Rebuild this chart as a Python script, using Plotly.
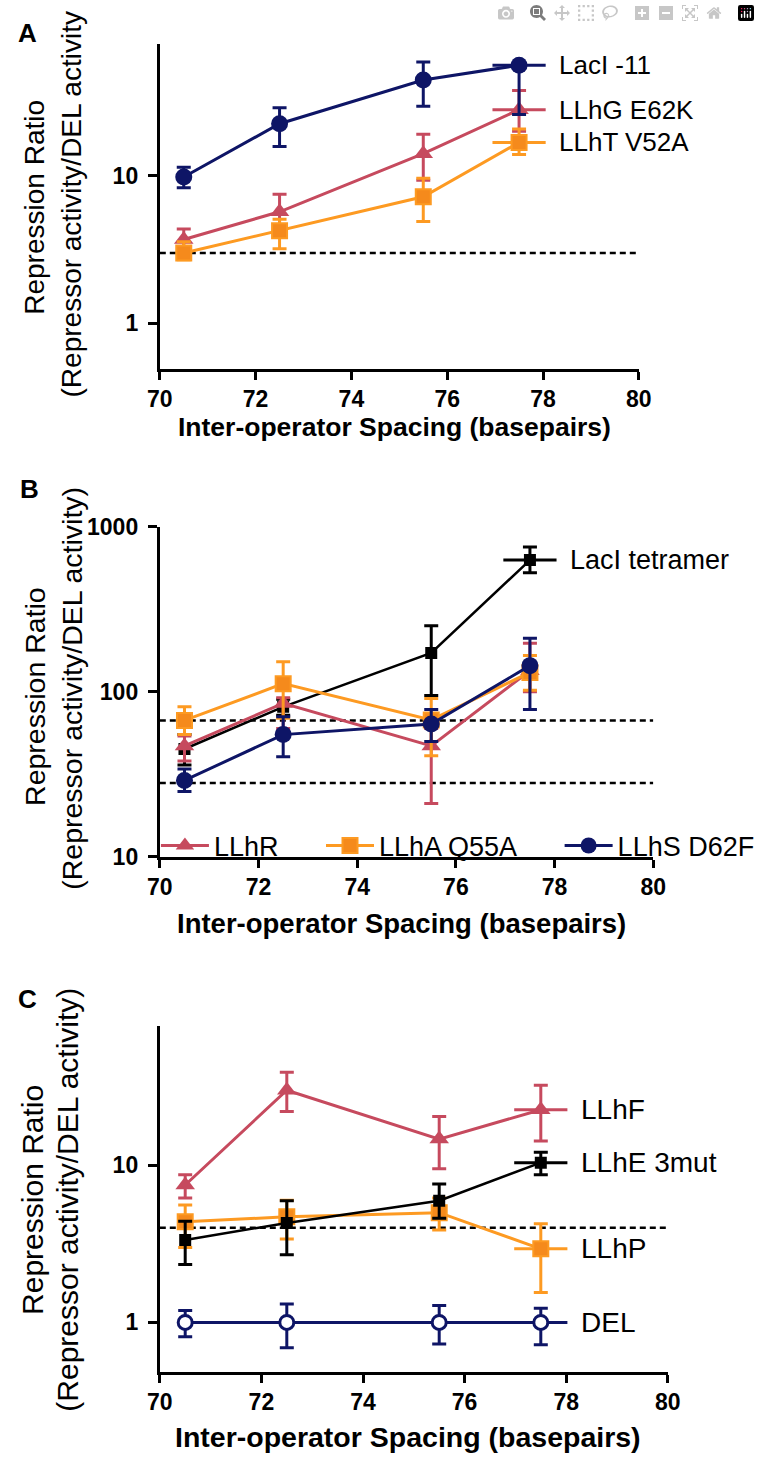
import math
import plotly.graph_objects as go

W, H = 760, 1468
FONT = "Liberation Sans, Arial, sans-serif"

NAVY = "#0E1566"
PINK = "#C64A5E"
ORANGE = "#FD9A22"
BLACK = "#000000"

# ---------------- data ----------------
spacing = [70.5, 72.5, 75.5, 77.5]
x_limits = [70, 80]
x_ticks = [70, 72, 74, 76, 78, 80]

# Panel A
a_laci11 = [9.8, 22.5, 44.5, 56.0]
a_laci11_lo = [8.3, 15.8, 29.5, 26.0]
a_laci11_hi = [11.4, 28.8, 58.9, 56.0]
a_llhg = [3.7, 5.7, 14.1, 28.0]
a_llhg_lo = [3.1, 4.4, 9.3, 20.0]
a_llhg_hi = [4.35, 7.5, 19.1, 37.8]
a_llht = [3.0, 4.24, 7.2, 16.8]
a_llht_lo = [2.7, 3.2, 4.9, 13.9]
a_llht_hi = [3.57, 5.07, 9.6, 20.7]
a_threshold = 3.0
a_yticks = [1, 10]

# Panel B
b_tet = [45.0, 81.0, 172.0, 628.0]
b_tet_lo = [36.0, 72.0, 95.0, 527.0]
b_tet_hi = [55.0, 90.0, 251.0, 754.0]
b_llhr = [47.0, 85.0, 47.0, 134.0]
b_llhr_lo = [38.0, 60.0, 21.0, 100.0]
b_llhr_hi = [54.0, 92.0, 60.0, 197.0]
b_llha = [67.0, 112.0, 67.5, 131.0]
b_llha_lo = [55.0, 69.0, 41.0, 102.0]
b_llha_hi = [81.0, 152.0, 91.0, 166.0]
b_llhs = [29.0, 55.0, 63.7, 144.0]
b_llhs_lo = [24.9, 40.4, 50.0, 78.0]
b_llhs_hi = [34.0, 70.6, 78.0, 211.0]
b_thresholds = [67.0, 28.0]
b_yticks = [10, 100, 1000]

# Panel C
c_llhf = [7.5, 30.1, 14.7, 22.6]
c_llhf_lo = [6.2, 22.0, 9.5, 14.3]
c_llhf_hi = [8.7, 39.2, 20.5, 32.4]
c_llhe = [3.35, 4.3, 5.96, 10.4]
c_llhe_lo = [2.34, 2.7, 4.6, 8.7]
c_llhe_hi = [4.4, 5.96, 7.6, 12.1]
c_llhp = [4.38, 4.7, 5.0, 2.94]
c_llhp_lo = [3.0, 3.4, 3.87, 1.55]
c_llhp_hi = [5.6, 6.0, 6.2, 4.25]
c_del = [1.0, 1.0, 1.0, 1.0]
c_del_lo = [0.81, 0.69, 0.73, 0.72]
c_del_hi = [1.19, 1.31, 1.28, 1.23]
c_threshold = 4.0
c_yticks = [1, 10]


def fx(p):
    return p / W


def fy(p):
    return 1 - p / H


fig = go.Figure()


def add_series(ax, yv, lo, hi, color, symbol, size, name=None, legend=False,
               fill=None, lw=3, mlw=0):
    fig.add_trace(go.Scatter(
        x=spacing, y=yv, mode="lines+markers", name=name, showlegend=legend,
        xaxis="x" + ax, yaxis="y" + ax,
        line=dict(color=color, width=lw),
        marker=dict(symbol=symbol, size=size, color=fill or color,
                    line=dict(color=color, width=mlw)),
        error_y=dict(type="data", symmetric=False,
                     array=[h - v for h, v in zip(hi, yv)],
                     arrayminus=[v - l for v, l in zip(yv, lo)],
                     color=color, thickness=3, width=7),
        hoverinfo="x+y",
    ))


def add_label(ax, yv, color, text, fsize):
    fig.add_trace(go.Scatter(
        x=[spacing[-1]], y=[yv[-1]], mode="markers", showlegend=False,
        xaxis="x" + ax, yaxis="y" + ax,
        marker=dict(symbol="line-ew", size=38, color=color,
                    line=dict(color=color, width=3)),
        hoverinfo="skip",
    ))
    xr = "x" if ax == "" else "x" + ax
    yr = "y" if ax == "" else "y" + ax
    fig.add_annotation(x=spacing[-1], y=math.log10(yv[-1]), xref=xr, yref=yr,
                       text=text, showarrow=False, xanchor="left", yanchor="middle",
                       xshift=38, font=dict(family=FONT, size=fsize, color="black"))


def add_threshold(ax, val):
    fig.add_trace(go.Scatter(
        x=x_limits, y=[val, val], mode="lines", showlegend=False,
        xaxis="x" + ax, yaxis="y" + ax,
        line=dict(color="black", width=2.5, dash="6px,4px"), hoverinfo="skip",
    ))


# ---- Panel A (axis '') ----
add_threshold("", a_threshold)
add_label("", a_llhg, PINK, "LLhG E62K", 26)
add_series("", a_llhg, a_llhg_lo, a_llhg_hi, PINK, "triangle-up", 17)
add_label("", a_llht, ORANGE, "LLhT V52A", 26)
add_series("", a_llht, a_llht_lo, a_llht_hi, ORANGE, "square", 15, fill="#F58A1C", mlw=2)
add_label("", a_laci11, NAVY, "LacI -11", 26)
add_series("", a_laci11, a_laci11_lo, a_laci11_hi, NAVY, "circle", 17)

# ---- Panel B (axis '2') ----
for t in b_thresholds:
    add_threshold("2", t)
add_label("2", b_tet, BLACK, "LacI tetramer", 27)
add_series("2", b_tet, b_tet_lo, b_tet_hi, BLACK, "square", 12, lw=2.5)
nb = "\u00a0"
add_series("2", b_llhr, b_llhr_lo, b_llhr_hi, PINK, "triangle-up", 17,
           name="LLhR" + nb * 5, legend=True)
add_series("2", b_llha, b_llha_lo, b_llha_hi, ORANGE, "square", 15,
           name="LLhA Q55A" + nb * 5, legend=True, fill="#F58A1C", mlw=2)
add_series("2", b_llhs, b_llhs_lo, b_llhs_hi, NAVY, "circle", 17,
           name="LLhS D62F", legend=True)

# ---- Panel C (axis '3') ----
add_threshold("3", c_threshold)
add_label("3", c_del, NAVY, "DEL", 28)
add_series("3", c_del, c_del_lo, c_del_hi, NAVY, "circle", 14, fill="white", mlw=3)
add_label("3", c_llhp, ORANGE, "LLhP", 28)
add_series("3", c_llhp, c_llhp_lo, c_llhp_hi, ORANGE, "square", 15, fill="#F58A1C", mlw=2)
add_label("3", c_llhe, BLACK, "LLhE 3mut", 28)
add_series("3", c_llhe, c_llhe_lo, c_llhe_hi, BLACK, "square", 12, lw=2.5)
add_label("3", c_llhf, PINK, "LLhF", 28)
add_series("3", c_llhf, c_llhf_lo, c_llhf_hi, PINK, "triangle-up", 17)


def xaxis(px0, px1, anchor, fsize):
    return dict(domain=[fx(px0), fx(px1)], range=x_limits, tickvals=x_ticks,
                ticktext=["<b>%d</b>" % v for v in x_ticks],
                ticks="outside", ticklen=8, tickwidth=3, tickcolor="black",
                showline=True, linewidth=3, linecolor="black", showgrid=False,
                zeroline=False, anchor=anchor,
                tickfont=dict(family=FONT, size=fsize, color="black"))


def yaxis(py0, py1, rng, tv, anchor, fsize):
    return dict(domain=[fy(py1), fy(py0)], type="log", range=rng, tickvals=tv,
                ticktext=["<b>%d</b>" % v for v in tv],
                ticks="outside", ticklen=9, tickwidth=3, tickcolor="black",
                showline=True, linewidth=3, linecolor="black", showgrid=False,
                zeroline=False, anchor=anchor, ticklabelstandoff=5,
                tickfont=dict(family=FONT, size=fsize, color="black"))


fig.update_layout(
    width=W, height=H, margin=dict(l=0, r=0, t=0, b=0),
    paper_bgcolor="white", plot_bgcolor="white",
    xaxis=xaxis(152, 648, "y", 23),
    yaxis=yaxis(32, 362, [-0.306, 1.889], a_yticks, "x", 23),
    xaxis2=xaxis(152, 663, "y2", 23),
    yaxis2=yaxis(523, 859, [1, 3], b_yticks, "x2", 23),
    xaxis3=xaxis(152, 678, "y3", 23),
    yaxis3=yaxis(1031, 1383, [-0.3125, 1.889], c_yticks, "x3", 23),
    showlegend=True,
    legend=dict(orientation="h", x=fx(148), y=fy(848), xanchor="left", yanchor="middle",
                font=dict(family=FONT, size=27, color="black"),
                bgcolor="rgba(0,0,0,0)", itemwidth=48, tracegroupgap=0),
)

# panel letters
for letter, px, py in [("A", 15, 20), ("B", 17, 485), ("C", 15, 1004)]:
    fig.add_annotation(x=fx(px), y=fy(py), xref="paper", yref="paper",
                       text="<b>%s</b>" % letter,
                       showarrow=False, xanchor="center", yanchor="middle",
                       font=dict(family=FONT, size=26, color="black"))

# y titles
ytitles = [
    ("Repression Ratio", 22, 198, 28),
    ("(Repressor activity/DEL activity", 61, 195, 28),
    ("Repression Ratio", 22, 696, 28.5),
    ("(Repressor activity/DEL activity)", 61, 687, 28.5),
    ("Repression Ratio", 20, 1208, 30),
    ("(Repressor activity/DEL activity)", 57, 1208, 30),
]
for txt, px, py, fs in ytitles:
    fig.add_annotation(x=fx(px), y=fy(py), xref="paper", yref="paper", text=txt,
                       showarrow=False, textangle=-90, xanchor="center", yanchor="middle",
                       font=dict(family=FONT, size=fs, color="black"))

# x titles
for px, py, fs in [(395, 421, 26.5), (402, 927, 27.5), (409, 1450, 28.5)]:
    fig.add_annotation(x=fx(px), y=fy(py), xref="paper", yref="paper",
                       text="<b>Inter-operator Spacing (basepairs)</b>", showarrow=False,
                       xanchor="center", yanchor="middle",
                       font=dict(family=FONT, size=fs, color="black"))

fig.write_html("out.html", post_script="document.body.style.margin='0';")
